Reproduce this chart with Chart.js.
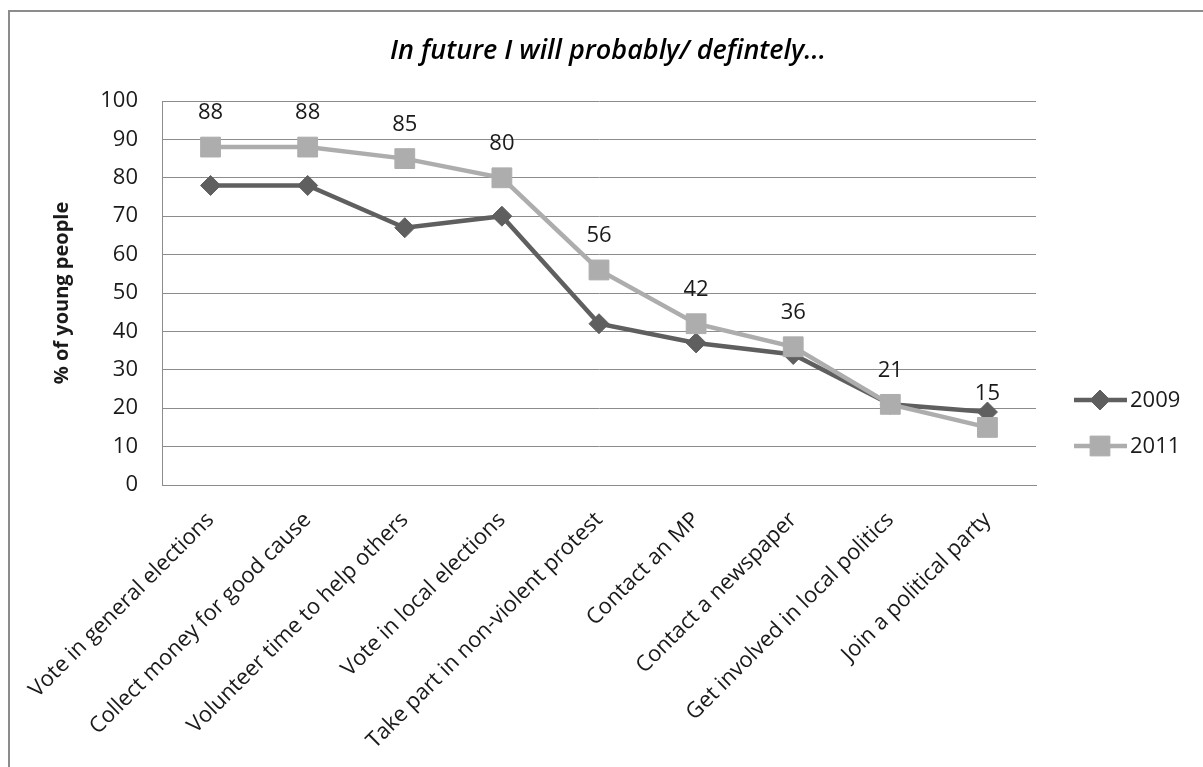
<!DOCTYPE html>
<html>
<head>
<meta charset="utf-8">
<script src="https://cdn.jsdelivr.net/npm/chart.js@4.4.1/dist/chart.umd.min.js"></script>
<style>
  html, body { margin: 0; padding: 0; background: #ffffff; }
  #wrap { width: 1203px; height: 767px; position: relative; }
  canvas { display: block; }
</style>
</head>
<body>
<div id="wrap"><canvas id="chart" width="1203" height="767"></canvas></div>
<script>
// Survey items (x categories)
const categories = [
  'Vote in general elections',
  'Collect money for good cause',
  'Volunteer time to help others',
  'Vote in local elections',
  'Take part in non-violent protest',
  'Contact an MP',
  'Contact a newspaper',
  'Get involved in local politics',
  'Join a political party'
];

// Percentage of young people, by survey year
const seriesNames = ['2009', '2011'];
const values2009 = [78, 78, 67, 70, 42, 37, 34, 21, 19];
const values2011 = [88, 88, 85, 80, 56, 42, 36, 21, 15];

// Value axis
const yMin = 0;
const yMax = 100;
const yStep = 10;

const chartTitle = 'In future I will probably/ defintely...';
const yAxisTitle = '% of young people';

const FONT = '"Open Sans", Lato, "DejaVu Sans", sans-serif';
const COLOR_2009 = '#5f5f5f';
const COLOR_2011 = '#adadad';
const GRID = '#8c8c8c';
const TEXT = '#1a1a1a';

// Frame, title, value labels and legend
const decorations = {
  id: 'decorations',
  beforeDraw(chart) {
    const ctx = chart.ctx;
    ctx.save();
    ctx.fillStyle = '#ffffff';
    ctx.fillRect(0, 0, chart.width, chart.height);
    ctx.strokeStyle = GRID;
    ctx.lineWidth = 2;
    ctx.beginPath();
    ctx.moveTo(9, chart.height);
    ctx.lineTo(9, 11);
    ctx.lineTo(chart.width, 11);
    ctx.stroke();
    ctx.restore();
  },
  afterDatasetsDraw(chart) {
    const ctx = chart.ctx;
    ctx.save();
    // chart title
    ctx.fillStyle = '#000000';
    ctx.font = 'italic 600 27px ' + FONT;
    ctx.textAlign = 'center';
    ctx.textBaseline = 'middle';
    ctx.fillText(chartTitle, 608, 51);

    // value labels above the 2011 markers
    const ds = chart.data.datasets[1];
    const meta = chart.getDatasetMeta(1);
    ctx.font = '22px ' + FONT;
    ctx.fillStyle = TEXT;
    meta.data.forEach((pt, i) => {
      ctx.fillText(String(ds.data[i]), pt.x, pt.y - 34);
    });

    // legend: line segment with marker, then series name
    const legendY = [400, 446];
    chart.data.datasets.forEach((d, i) => {
      const y = legendY[i];
      ctx.strokeStyle = d.borderColor;
      ctx.lineWidth = d.borderWidth;
      ctx.lineCap = 'butt';
      ctx.beginPath();
      ctx.moveTo(1074, y);
      ctx.lineTo(1127, y);
      ctx.stroke();
      ctx.fillStyle = d.pointBackgroundColor;
      ctx.strokeStyle = d.pointBorderColor;
      ctx.lineWidth = d.pointBorderWidth;
      Chart.helpers.drawPoint(ctx, {
        pointStyle: d.pointStyle,
        radius: d.pointRadius,
        rotation: 0,
        borderWidth: d.pointBorderWidth
      }, 1100, y);
      ctx.fillStyle = TEXT;
      ctx.textAlign = 'left';
      ctx.textBaseline = 'middle';
      ctx.font = '22px ' + FONT;
      ctx.fillText(d.label, 1130, y + 1);
    });
    ctx.restore();
  }
};

const ctx = document.getElementById('chart').getContext('2d');
const chart = new Chart(ctx, {
  type: 'line',
  data: {
    labels: categories,
    datasets: [
      {
        label: seriesNames[0],
        data: values2009,
        borderColor: COLOR_2009,
        backgroundColor: COLOR_2009,
        borderWidth: 4.5,
        pointStyle: 'rectRot',
        pointRadius: 10,
        pointBorderWidth: 1,
        pointBackgroundColor: COLOR_2009,
        pointBorderColor: COLOR_2009,
        tension: 0,
        order: 1
      },
      {
        label: seriesNames[1],
        data: values2011,
        borderColor: COLOR_2011,
        backgroundColor: COLOR_2011,
        borderWidth: 4.5,
        pointStyle: 'rect',
        pointRadius: 14,
        pointBorderWidth: 1,
        pointBackgroundColor: COLOR_2011,
        pointBorderColor: COLOR_2011,
        tension: 0,
        order: 0
      }
    ]
  },
  options: {
    responsive: false,
    animation: false,
    devicePixelRatio: 1,
    layout: { padding: { left: 0, right: 167, top: 101, bottom: 0 } },
    plugins: {
      legend: { display: false },
      title: { display: false },
      tooltip: { enabled: false }
    },
    scales: {
      x: {
        offset: true,
        grid: { display: false, drawTicks: false },
        border: { display: true, color: GRID, width: 1 },
        ticks: {
          autoSkip: false,
          minRotation: 45,
          maxRotation: 45,
          padding: 22,
          color: TEXT,
          font: { family: FONT, size: 22 }
        },
        afterFit(scale) { scale.height = 767 - 485; }
      },
      y: {
        min: yMin,
        max: yMax,
        grid: { color: GRID, lineWidth: 1, drawTicks: false },
        border: { display: true, color: GRID, width: 1 },
        ticks: {
          stepSize: yStep,
          padding: 24,
          color: TEXT,
          font: { family: FONT, size: 22 }
        },
        title: {
          display: true,
          text: yAxisTitle,
          color: TEXT,
          font: { family: FONT, size: 20, weight: 'bold' },
          padding: { top: 50, bottom: 0 }
        },
        afterFit(scale) { scale.width = 162; }
      }
    }
  },
  plugins: [decorations]
});
</script>
</body>
</html>
